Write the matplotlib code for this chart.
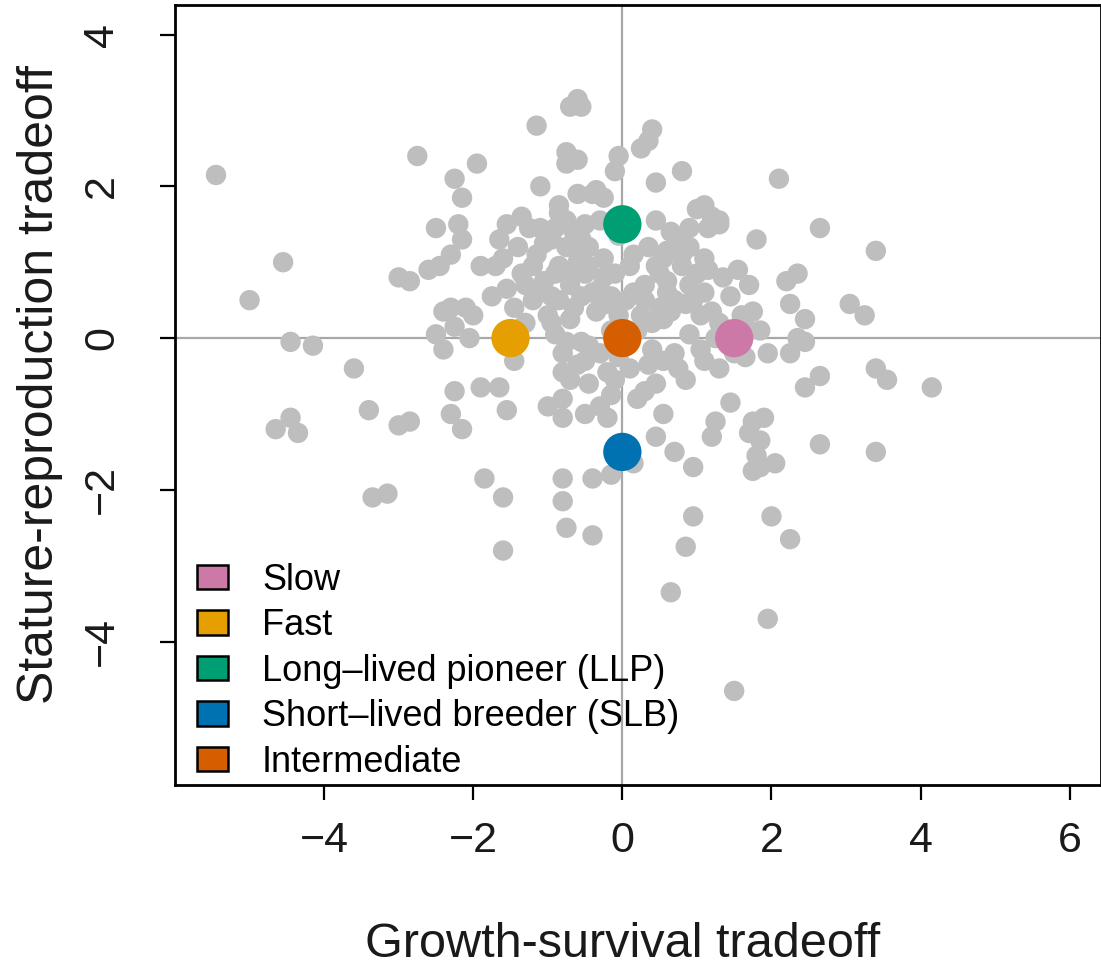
import matplotlib
matplotlib.use("Agg")
import matplotlib.pyplot as plt
from matplotlib.patches import Patch

plt.rcParams['font.family'] = ['Liberation Sans', 'DejaVu Sans']

# Background species (growth-survival, stature-reproduction)
gs = [-5.45, -5.0, -4.55, -4.45, -4.15, -4.65, -4.45, -4.35, -3.6, -3.4, -3.35, -3.15, -3.0, -2.85,
      -3.0, -2.85, -2.75, -2.6, -2.5, -2.5, -2.45, -2.4, -2.4, -2.3, -2.3, -2.25, -2.25, -2.25, -2.3,
      -2.2, -2.15, -2.15, -2.1, -2.05, -2.0, -2.15,
      -1.95, -1.9, -1.85, -1.7, -1.65, -1.65, -1.6, -1.55, -1.55, -1.6, -1.55, -1.45, -1.45, -1.4,
      -1.35, -1.35, -1.3, -1.25, -1.2, -1.2, -1.15, -1.1, -1.1, -1.05, -1.0, -0.95, -0.95, -0.9, -0.9,
      -0.85, -0.85, -0.85, -0.85, -0.8, -0.8, -0.8, -0.8, -0.8, -0.8, -0.75, -0.75, -0.75, -0.75,
      -0.7, -0.7, -0.7, -0.65, -0.65, -0.6, -0.6, -0.6, -0.6, -0.55, -0.55, -0.55, -0.5, -0.5, -0.5,
      -0.5, -0.45, -0.45, -0.4, -0.4, -0.4, -0.35, -0.35, -0.3, -0.3, -0.3, -0.3, -0.25, -0.25, -0.2,
      -0.2, -0.2, -0.15, -0.15, -0.1, -0.1, -0.1, -0.05, -0.05, -0.05, -0.15, -1.0,
      0.1, 0.1, 0.15, 0.15, 0.2, 0.2, 0.25, 0.3, 0.3, 0.3, 0.35, 0.35, 0.35, 0.4, 0.45, 0.45, 0.45,
      0.45, 0.5, 0.5, 0.55, 0.55, 0.6, 0.6, 0.65, 0.7, 0.7, 0.7, 0.75, 0.75, 0.8, 0.8, 0.85, 0.85,
      0.9, 0.9, 0.9, 0.95, 0.95, 1.0, 1.0, 1.05, 1.05, 1.1, 1.1, 1.15, 1.2, 1.25, 1.25, 1.3, 1.3,
      1.35, 1.45, 1.45, 1.5, 1.5, 1.55, 1.6, 1.65, 1.7, 1.7, 1.7, 1.75, 1.75, 1.75, 1.8, 1.8, 1.85,
      1.85, 1.85, 1.95, 1.95, 2.0, 1.9, 2.05, 2.1, 1.2,
      2.2, 2.25, 2.25, 2.25, 2.35, 2.35, 2.45, 2.45, 2.45, 2.65, 2.65, 2.65, 3.05, 3.25, 3.4, 3.4,
      3.4, 3.55, 4.15,
      -1.15, -1.05, -0.9, -0.75, -0.55, -0.45, -0.65, -0.4, -0.15, -0.05, -1.3, -1.15, -0.7, -0.95,
      -1.6, -1.75, -1.9, 0.25, 0.4, 0.55, 0.65, 0.85, 0.95, 1.2, 1.3, 0.6, 0.8, 1.15, 0.4, 0.55,
      1.1, -0.6, -0.45, -0.75, 0.15, -0.25, 0.05, -0.6, 0.45, 0.65, 0.9, 1.1, 1.3]
sr = [2.15, 0.5, 1.0, -0.05, -0.1, -1.2, -1.05, -1.25, -0.4, -0.95, -2.1, -2.05, -1.15, -1.1,
      0.8, 0.75, 2.4, 0.9, 1.45, 0.05, 0.95, -0.15, 0.35, 1.1, 0.4, 2.1, 0.15, -0.7, -1.0,
      1.5, 1.85, -1.2, 0.4, 0.0, 0.3, 1.3,
      2.3, -0.65, -1.85, 0.95, 1.3, -0.65, -2.1, 0.65, -0.95, -2.8, 1.5, 0.4, -0.3, 1.2,
      0.85, 1.6, 0.2, 1.45, 0.95, 0.5, 2.8, 2.0, 1.45, 0.75, 0.3, 0.55, 1.3, 0.85, 0.05,
      1.65, 1.75, 0.5, 0.95, -0.45, -0.2, -0.8, -1.85, -2.15, -1.05, 2.3, 2.45, 1.2, -2.5,
      3.05, 0.7, -0.55, 1.4, 0.4, 3.15, 2.35, 1.9, 1.0, 3.05, 0.55, -0.05, 1.5, 0.85, -0.3,
      -1.0, 1.2, -0.6, 1.9, -1.85, -2.6, 0.35, 1.95, 1.55, 0.65, -0.2, -0.9, 1.05, 1.85, 0.45,
      -0.45, -1.05, 0.1, -1.8, 2.2, 0.85, -0.55, 2.4, 1.35, -0.25, -0.75, -0.9,
      -0.4, 0.95, -1.65, 1.1, 0.1, -0.8, 2.5, 0.5, 0.7, -0.7, 2.6, 1.2, -0.35, 2.75, 0.95, 2.05, -1.3,
      -0.6, 0.4, 0.85, 1.05, -1.0, 0.6, 0.75, -3.35, -0.2, 0.5, -1.5, 1.3, -0.4, 2.2, 0.95, -0.55, -2.75,
      1.2, 0.7, 0.05, -1.7, -2.35, 0.85, 1.7, 0.3, -0.15, 1.05, 0.6, 1.45, 1.6, 0.0, -1.1, -0.4, 1.5,
      0.8, 0.55, -0.85, -4.65, -0.2, 0.9, 0.3, -0.25, 0.1, 0.7, -1.25, -1.1, 0.35, -1.75, 1.3, -1.55, -1.35,
      -1.7, 0.1, -3.7, -0.2, -2.35, -1.05, -1.65, 2.1, -1.3,
      0.75, 0.45, -0.2, -2.65, 0.85, 0.0, -0.65, -0.05, 0.25, 1.45, -0.5, -1.4, 0.45, 0.3, 1.15, -0.4,
      -1.5, -0.55, -0.65,
      1.1, 1.25, 1.45, 1.55, 1.3, 0.95, 0.85, 0.6, 0.55, 0.3, 0.7, 0.6, 0.25, 0.2,
      1.05, 0.55, 0.95, 0.3, 0.2, 0.25, 0.35, 0.45, 0.5, 0.35, 0.2, 1.15, 1.1, 0.9, -0.15, -0.3,
      -0.3, -0.35, -0.1, -0.05, 0.6, 0.8, 0.5, 1.15, 1.55, 1.4, 1.45, 1.75, 1.55]

# Strategy archetypes
strategies = ["Slow", "Fast", "Long\u2013lived pioneer (LLP)", "Short\u2013lived breeder (SLB)", "Intermediate"]
strat_gs = [1.5, -1.5, 0.0, 0.0, 0.0]
strat_sr = [0.0, 0.0, 1.5, -1.5, 0.0]
strat_colors = ["#CC79A7", "#E69F00", "#009E73", "#0072B2", "#D55E00"]

xticks = [-4, -2, 0, 2, 4, 6]
yticks = [-4, -2, 0, 2, 4]

fig = plt.figure(figsize=(11.01, 9.73), dpi=100)
ax = fig.add_axes([175/1101, 1-785/973, (1101-175)/1101, (785-5)/973])

ax.axhline(0, color="#A8A8A8", lw=1.6, zorder=1)
ax.axvline(0, color="#A8A8A8", lw=1.6, zorder=1)
ax.scatter(gs, sr, s=215, color="#BEBEBE", edgecolors="none", zorder=2)
ax.scatter(strat_gs, strat_sr, s=760, color=strat_colors, edgecolors="none", zorder=3)

ax.set_xlim(-6.0, 6.42)
ax.set_ylim(-5.89, 4.39)
ax.set_xticks(xticks)
ax.set_yticks(yticks)
ax.set_xticklabels([str(t).replace('-', '\u2212') for t in xticks])
ax.set_yticklabels([str(t).replace('-', '\u2212') for t in yticks], rotation=90, va='center')
ax.tick_params(direction='out', length=11, width=1.6, labelsize=31, color='black',
               labelcolor='#1a1a1a')
ax.tick_params(axis='x', pad=15)
ax.tick_params(axis='y', pad=27)
for sp in ax.spines.values():
    sp.set_linewidth(2.0)

ax.set_xlabel("Growth-survival tradeoff", fontsize=35, color="#1a1a1a")
ax.set_ylabel("Stature-reproduction tradeoff", fontsize=36, color="#1a1a1a")
ax.xaxis.set_label_coords(0.483, -0.176)
ax.yaxis.set_label_coords(-0.121, 0.513)

handles = [Patch(facecolor=c, edgecolor='black', linewidth=1.8) for c in strat_colors]
ax.legend(handles, strategies, loc='lower left', bbox_to_anchor=(0.018, 0.0), frameon=False,
          fontsize=26, labelspacing=0.29, handletextpad=0.95, borderaxespad=0.0,
          handlelength=0.85, handleheight=0.68, borderpad=0.15)

fig.savefig("out.png", dpi=100)
